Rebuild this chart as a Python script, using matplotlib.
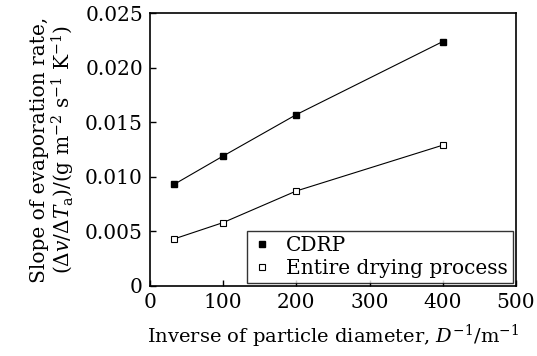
import matplotlib
matplotlib.use("Agg")
import matplotlib.pyplot as plt

# =====================================
# Data
# =====================================
inv_diameter = [33, 100, 200, 400]
cdrp = [0.0093, 0.0119, 0.0157, 0.0224]
entire = [0.0043, 0.0058, 0.0087, 0.0129]

plt.rcParams["font.family"] = "DejaVu Serif"
plt.rcParams["mathtext.fontset"] = "dejavuserif"


def main():
    fig = plt.figure(figsize=(5.37, 3.56), dpi=100)
    ax = fig.add_axes([0.279, 0.197, 0.682, 0.766])

    # fitted lines, drawn without legend entry
    ax.plot(inv_diameter, cdrp, color="black", lw=0.8)
    ax.plot(inv_diameter, entire, color="black", lw=0.8)
    # markers
    ax.plot(inv_diameter, cdrp, ls="none", marker="s", ms=5,
            mfc="black", mec="black", label="CDRP")
    ax.plot(inv_diameter, entire, ls="none", marker="s", ms=5,
            mfc="white", mec="black", mew=0.8, label="Entire drying process")

    ax.set_xlim(0, 500)
    ax.set_ylim(0, 0.025)
    ax.set_xticks([0, 100, 200, 300, 400, 500])
    ax.set_yticks([0, 0.005, 0.010, 0.015, 0.020, 0.025])
    ax.set_yticklabels(["0", "0.005", "0.010", "0.015", "0.020", "0.025"])
    ax.tick_params(direction="in", labelsize=14.5, length=4, width=1, pad=5)
    for s in ax.spines.values():
        s.set_linewidth(1.2)

    ax.set_xlabel(r"Inverse of particle diameter, $D^{-1}$/m$^{-1}$",
                  fontsize=14, labelpad=8)
    ax.set_ylabel("Slope of evaporation rate,\n"
                  r"($\Delta v/\Delta T_{\mathrm{a}}$)/(g m$^{-2}$ s$^{-1}$ K$^{-1}$)",
                  fontsize=14.5, labelpad=6, linespacing=1.0)

    leg = ax.legend(loc="lower right", fontsize=14.5, frameon=True, fancybox=False,
                    edgecolor="black", handlelength=1.0, handletextpad=0.7,
                    borderaxespad=0.15, borderpad=0.25, labelspacing=0.2)
    leg.get_frame().set_linewidth(1.0)

    fig.savefig("out.png", dpi=100)


if __name__ == "__main__":
    main()
